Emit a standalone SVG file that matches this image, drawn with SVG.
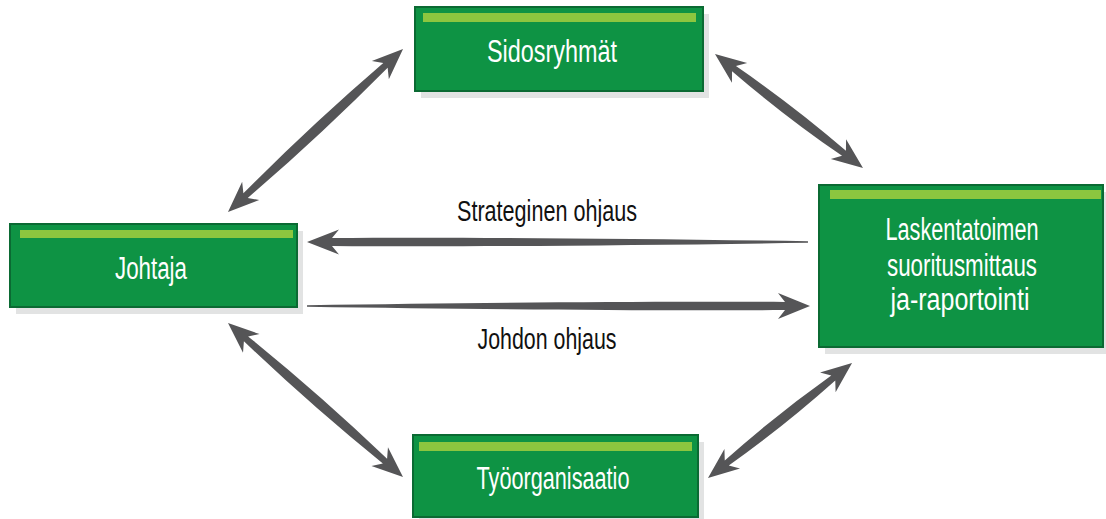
<svg xmlns="http://www.w3.org/2000/svg" width="1106" height="519" viewBox="0 0 1106 519">
  <style>
    .shadow { fill: #e2e3e3; }
    .box { fill: #0e9344; stroke: #0b6a33; stroke-width: 2; }
    .bar { fill: #8cc63f; }
    .label { font-family: "Liberation Sans", Arial, sans-serif; font-size: 31px; fill: #ffffff; text-anchor: middle; }
    .flow { font-family: "Liberation Sans", Arial, sans-serif; font-size: 30px; fill: #111111; text-anchor: middle; }
    .arrow { fill: #555557; }
  </style>
  <rect width="1106" height="519" fill="#ffffff"/>

  <!-- connectors -->
  <g id="connectors">
    <!-- Johtaja <-> Sidosryhmät -->
    <path class="arrow" transform="translate(228,212) rotate(-42.97)" d="M0,0 L31,-12.5 L24,-3.2 Q119.6,-7 215.2,-3.2 L208.2,-12.5 L239.2,0 L208.2,12.5 L215.2,3.2 Q119.6,7 24,3.2 L31,12.5 Z"/>
    <!-- Sidosryhmät <-> Laskentatoimen -->
    <path class="arrow" transform="translate(715,54) rotate(37.6)" d="M0,0 L31,-12.5 L24,-3.2 Q93.4,-7 162.8,-3.2 L155.8,-12.5 L186.8,0 L155.8,12.5 L162.8,3.2 Q93.4,7 24,3.2 L31,12.5 Z"/>
    <!-- Johtaja <-> Työorganisaatio -->
    <path class="arrow" transform="translate(228,323) rotate(41.35)" d="M0,0 L31,-12.5 L24,-3.2 Q116.6,-7 209.1,-3.2 L202.1,-12.5 L233.1,0 L202.1,12.5 L209.1,3.2 Q116.6,7 24,3.2 L31,12.5 Z"/>
    <!-- Työorganisaatio <-> Laskentatoimen -->
    <path class="arrow" transform="translate(708,478) rotate(-38.6)" d="M0,0 L31,-12.5 L24,-3.2 Q92.1,-7 160.3,-3.2 L153.3,-12.5 L184.3,0 L153.3,12.5 L160.3,3.2 Q92.1,7 24,3.2 L31,12.5 Z"/>
    <!-- Strateginen ohjaus: Laskentatoimen -> Johtaja -->
    <path class="arrow" transform="translate(307,242)" d="M0,0 L32,-12.5 L25,-4 C150,-5 320,-3.5 501,-0.8 L501,0.8 C320,3.5 150,5 25,4 L32,12.5 Z"/>
    <!-- Johdon ohjaus: Johtaja -> Laskentatoimen -->
    <path class="arrow" transform="translate(810,306) rotate(180)" d="M0,0 L32,-13 L25,-4 C150,-5 320,-3.5 503,-0.8 L503,0.8 C320,3.5 150,5 25,4 L32,13 Z"/>
    <text class="flow" x="547" y="221" textLength="180" lengthAdjust="spacingAndGlyphs">Strateginen ohjaus</text>
    <text class="flow" x="547" y="349" textLength="139" lengthAdjust="spacingAndGlyphs">Johdon ohjaus</text>
  </g>

  <g id="sidosryhmat">
    <rect class="shadow" x="421" y="14" width="288" height="84"/>
    <rect class="box" x="415" y="7" width="288" height="84"/>
    <rect class="bar" x="423" y="13" width="273" height="9"/>
    <text class="label" x="552" y="62" textLength="130" lengthAdjust="spacingAndGlyphs">Sidosryhmät</text>
  </g>

  <g id="johtaja">
    <rect class="shadow" x="16" y="231" width="287" height="83"/>
    <rect class="box" x="10" y="224" width="287" height="83"/>
    <rect class="bar" x="20" y="230" width="273" height="8"/>
    <text class="label" x="151" y="279" textLength="72" lengthAdjust="spacingAndGlyphs">Johtaja</text>
  </g>

  <g id="laskentatoimen">
    <rect class="shadow" x="825" y="192" width="285" height="162"/>
    <rect class="box" x="819" y="185" width="284" height="162"/>
    <rect class="bar" x="830" y="190" width="271" height="9"/>
    <text class="label" x="962" y="240" textLength="153" lengthAdjust="spacingAndGlyphs">Laskentatoimen</text>
    <text class="label" x="962" y="276" textLength="150" lengthAdjust="spacingAndGlyphs">suoritusmittaus</text>
    <text class="label" x="960" y="310" textLength="139" lengthAdjust="spacingAndGlyphs">ja-raportointi</text>
  </g>

  <g id="tyoorganisaatio">
    <rect class="shadow" x="419" y="442" width="285" height="82"/>
    <rect class="box" x="413" y="435" width="285" height="82"/>
    <rect class="bar" x="419" y="442" width="273" height="9"/>
    <text class="label" x="553" y="489" textLength="153" lengthAdjust="spacingAndGlyphs">Työorganisaatio</text>
  </g>
</svg>
